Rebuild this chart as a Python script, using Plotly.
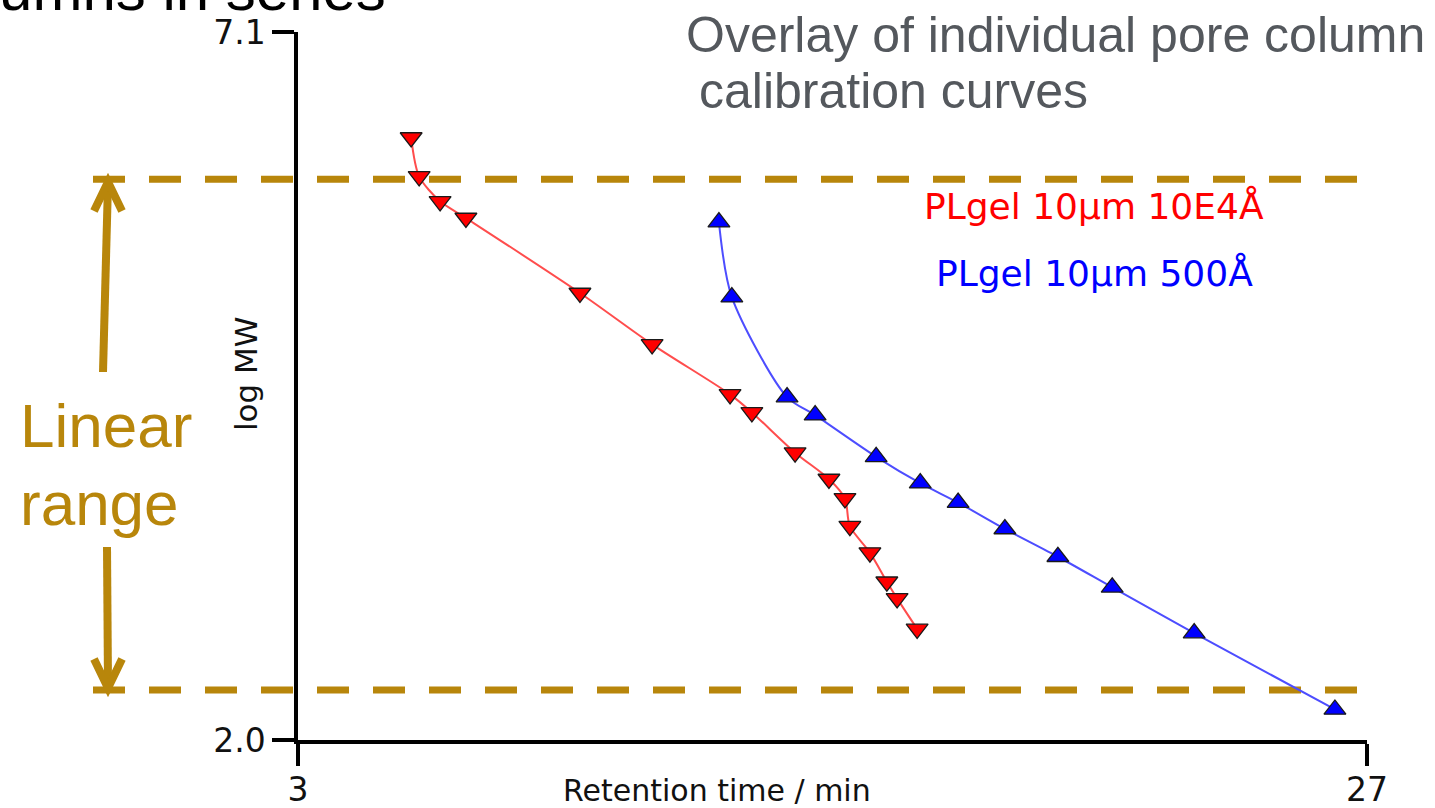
import plotly.graph_objects as go

# ---- data ----
red_name = "PLgel 10µm 10E4Å"
red_x = [5.54, 5.72, 6.19, 6.77, 9.33, 10.95, 12.70, 13.19, 14.16, 14.92, 15.28, 15.39, 15.84, 16.22, 16.45, 16.90]
red_y = [6.34, 6.06, 5.88, 5.76, 5.22, 4.85, 4.49, 4.36, 4.07, 3.88, 3.74, 3.54, 3.35, 3.14, 3.02, 2.80]

blue_name = "PLgel 10µm 500Å"
blue_x = [12.45, 12.74, 13.98, 14.61, 15.98, 16.97, 17.82, 18.87, 20.06, 21.28, 23.12, 26.28]
blue_y = [5.73, 5.19, 4.47, 4.34, 4.04, 3.85, 3.71, 3.52, 3.32, 3.10, 2.77, 2.22]

x_ticks = [3, 27]
y_ticks = [2.0, 7.1]
linear_range = [6.04, 2.36]

GOLD = "#B8860B"
W, H = 1435, 808
L, R, T, B = 298, 68, 32, 68
PW, PH = W - L - R, H - T - B


def px(xp):
    return (xp - L) / PW


def py(yp):
    return (H - B - yp) / PH


fig = go.Figure()
fig.add_trace(go.Scatter(
    x=red_x, y=red_y, mode="lines+markers", name=red_name,
    line=dict(color="#FF4D4D", width=2, shape="spline", smoothing=0.8),
    marker=dict(symbol="triangle-down", size=19, color="#FF0000",
                line=dict(color="#1A1A1A", width=1.3)),
))
fig.add_trace(go.Scatter(
    x=blue_x, y=blue_y, mode="lines+markers", name=blue_name,
    line=dict(color="#4D4DFF", width=2, shape="spline", smoothing=0.8),
    marker=dict(symbol="triangle-up", size=19, color="#0000FF",
                line=dict(color="#1A1A1A", width=1.3)),
))

shapes = []
for yv in linear_range:
    shapes.append(dict(type="line", xref="paper", yref="y",
                       x0=px(93), x1=px(1357), y0=yv, y1=yv,
                       line=dict(color=GOLD, width=7, dash="32px,24px"),
                       layer="below"))
# double arrow (two shafts with chevron heads)
shapes.append(dict(type="line", xref="paper", yref="paper",
                   x0=px(108), y0=py(183), x1=px(103), y1=py(372),
                   line=dict(color=GOLD, width=8)))
shapes.append(dict(type="line", xref="paper", yref="paper",
                   x0=px(107), y0=py(547), x1=px(108), y1=py(686),
                   line=dict(color=GOLD, width=8)))
shapes.append(dict(type="path", xref="paper", yref="paper",
                   path=f"M {px(94)},{py(211)} L {px(108)},{py(182)} L {px(122)},{py(211)}",
                   line=dict(color=GOLD, width=8)))
shapes.append(dict(type="path", xref="paper", yref="paper",
                   path=f"M {px(94)},{py(659)} L {px(108)},{py(688)} L {px(122)},{py(659)}",
                   line=dict(color=GOLD, width=8)))

CH = "DejaVu Sans"
SL = "Liberation Sans"
ann = [
    dict(text="Columns in series", x=px(388), y=py(-11), xanchor="right", yanchor="middle",
         font=dict(family=SL, size=60, color="#000000")),
    dict(text="Overlay of individual pore column", x=px(684), y=py(35), xanchor="left", yanchor="middle",
         font=dict(family=SL, size=50, color="#54585D")),
    dict(text="calibration curves", x=px(697), y=py(91), xanchor="left", yanchor="middle",
         font=dict(family=SL, size=50, color="#54585D")),
    dict(text="Linear", x=px(18), y=py(425), xanchor="left", yanchor="middle",
         font=dict(family=SL, size=62, color=GOLD)),
    dict(text="range", x=px(18), y=py(503), xanchor="left", yanchor="middle",
         font=dict(family=SL, size=62, color=GOLD)),
    dict(text=red_name, x=px(1094), y=py(206), xanchor="center", yanchor="middle",
         font=dict(family=CH, size=36, color="#FF0000")),
    dict(text=blue_name, x=px(1094), y=py(273), xanchor="center", yanchor="middle",
         font=dict(family=CH, size=36, color="#0000FF")),
    dict(text="Retention time / min", x=px(717), y=py(790), xanchor="center", yanchor="middle",
         font=dict(family=CH, size=30, color="#111111")),
    dict(text="log MW", x=px(246), y=py(374), xanchor="center", yanchor="middle", textangle=-90,
         font=dict(family=CH, size=31, color="#111111")),
]
for a in ann:
    a.update(xref="paper", yref="paper", showarrow=False)

axis_common = dict(showgrid=False, zeroline=False, showline=True, linecolor="#000000", linewidth=3.5,
                   ticks="outside", ticklen=22, tickwidth=3.5, tickcolor="#000000", automargin=False,
                   tickfont=dict(family=CH, size=33, color="#111111"), mirror=False)

fig.update_layout(
    width=W, height=H, autosize=False,
    margin=dict(l=L, r=R, t=T, b=B, pad=0),
    paper_bgcolor="white", plot_bgcolor="white",
    showlegend=False,
    xaxis=dict(range=[x_ticks[0], x_ticks[-1]], tickvals=x_ticks, ticktext=[str(v) for v in x_ticks],
               ticklabelstandoff=-4, **axis_common),
    yaxis=dict(range=[y_ticks[0], y_ticks[-1]], tickvals=y_ticks, ticktext=[f"{v:.1f}" for v in y_ticks],
               **axis_common),
    shapes=shapes,
    annotations=ann,
)
fig.update_traces(cliponaxis=False)

fig.write_html("out.html")
